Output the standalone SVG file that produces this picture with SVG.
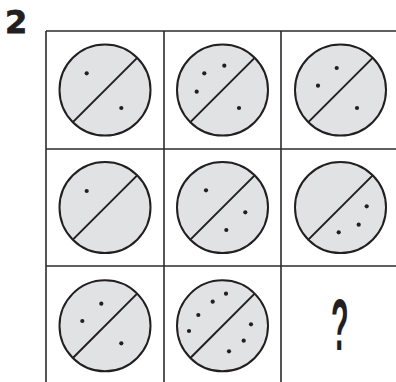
<svg xmlns="http://www.w3.org/2000/svg" width="396" height="382" viewBox="0 0 396 382">
<style>
.grid{stroke:#2b2b2b;stroke-width:1.6;fill:none}
.disc{fill:#e1e2e4;stroke:#231f20;stroke-width:2}
.cut{stroke:#231f20;stroke-width:2}
.dot{fill:#231f20}
.lbl{font-family:"Liberation Sans",Arial,sans-serif;font-weight:bold;fill:#231f20}
.num{font-family:"DejaVu Sans","Liberation Sans",sans-serif;font-size:32px;stroke:#231f20;stroke-width:0.8}
.q{font-size:72px}
</style>
<defs>
<g id="disc">
<circle class="disc" cx="0" cy="0" r="45.5"/>
<line class="cut" x1="-31.9" y1="31.9" x2="31.9" y2="-31.9"/>
</g>
</defs>
<text class="lbl num" x="5" y="33.3">2</text>
<g id="grid">
<line class="grid" x1="46" y1="31" x2="396" y2="31"/>
<line class="grid" x1="46" y1="149" x2="396" y2="149"/>
<line class="grid" x1="46" y1="266" x2="396" y2="266"/>
<line class="grid" x1="46" y1="31" x2="46" y2="382"/>
<line class="grid" x1="164" y1="31" x2="164" y2="382"/>
<line class="grid" x1="281" y1="31" x2="281" y2="382"/>
</g>
<g id="cell1">
<use href="#disc" x="105" y="90"/>
<circle class="dot" cx="86.7" cy="73.3" r="2.1"/>
<circle class="dot" cx="121.3" cy="108" r="2.1"/>
</g>
<g id="cell2">
<use href="#disc" x="222.5" y="90"/>
<circle class="dot" cx="224.3" cy="65.7" r="2.1"/>
<circle class="dot" cx="204.3" cy="73.3" r="2.1"/>
<circle class="dot" cx="196.7" cy="91.7" r="2.1"/>
<circle class="dot" cx="239" cy="108" r="2.1"/>
</g>
<g id="cell3">
<use href="#disc" x="340.5" y="90"/>
<circle class="dot" cx="336.7" cy="68" r="2.1"/>
<circle class="dot" cx="318" cy="85.7" r="2.1"/>
<circle class="dot" cx="357" cy="108" r="2.1"/>
</g>
<g id="cell4">
<use href="#disc" x="105" y="207.5"/>
<circle class="dot" cx="86.7" cy="191" r="2.1"/>
</g>
<g id="cell5">
<use href="#disc" x="222.5" y="207.5"/>
<circle class="dot" cx="206" cy="190.3" r="2.1"/>
<circle class="dot" cx="245.3" cy="212.3" r="2.1"/>
<circle class="dot" cx="226.3" cy="230" r="2.1"/>
</g>
<g id="cell6">
<use href="#disc" x="340.5" y="207.5"/>
<circle class="dot" cx="366.7" cy="206.3" r="2.1"/>
<circle class="dot" cx="358.7" cy="224.7" r="2.1"/>
<circle class="dot" cx="338.7" cy="232.3" r="2.1"/>
</g>
<g id="cell7">
<use href="#disc" x="105" y="325.8"/>
<circle class="dot" cx="101.3" cy="303.7" r="2.1"/>
<circle class="dot" cx="82.3" cy="321" r="2.1"/>
<circle class="dot" cx="121.3" cy="343.3" r="2.1"/>
</g>
<g id="cell8">
<use href="#disc" x="222.5" y="325.8"/>
<circle class="dot" cx="226" cy="293.7" r="2.1"/>
<circle class="dot" cx="212.7" cy="301.7" r="2.1"/>
<circle class="dot" cx="198.3" cy="315" r="2.1"/>
<circle class="dot" cx="189" cy="331" r="2.1"/>
<circle class="dot" cx="251" cy="324.3" r="2.1"/>
<circle class="dot" cx="243.7" cy="340.7" r="2.1"/>
<circle class="dot" cx="229" cy="351.3" r="2.1"/>
</g>
<g id="cell9">
<text class="lbl q" transform="translate(339.7,350.3) scale(0.4,1)" x="0" y="0" text-anchor="middle">?</text>
</g>
</svg>
